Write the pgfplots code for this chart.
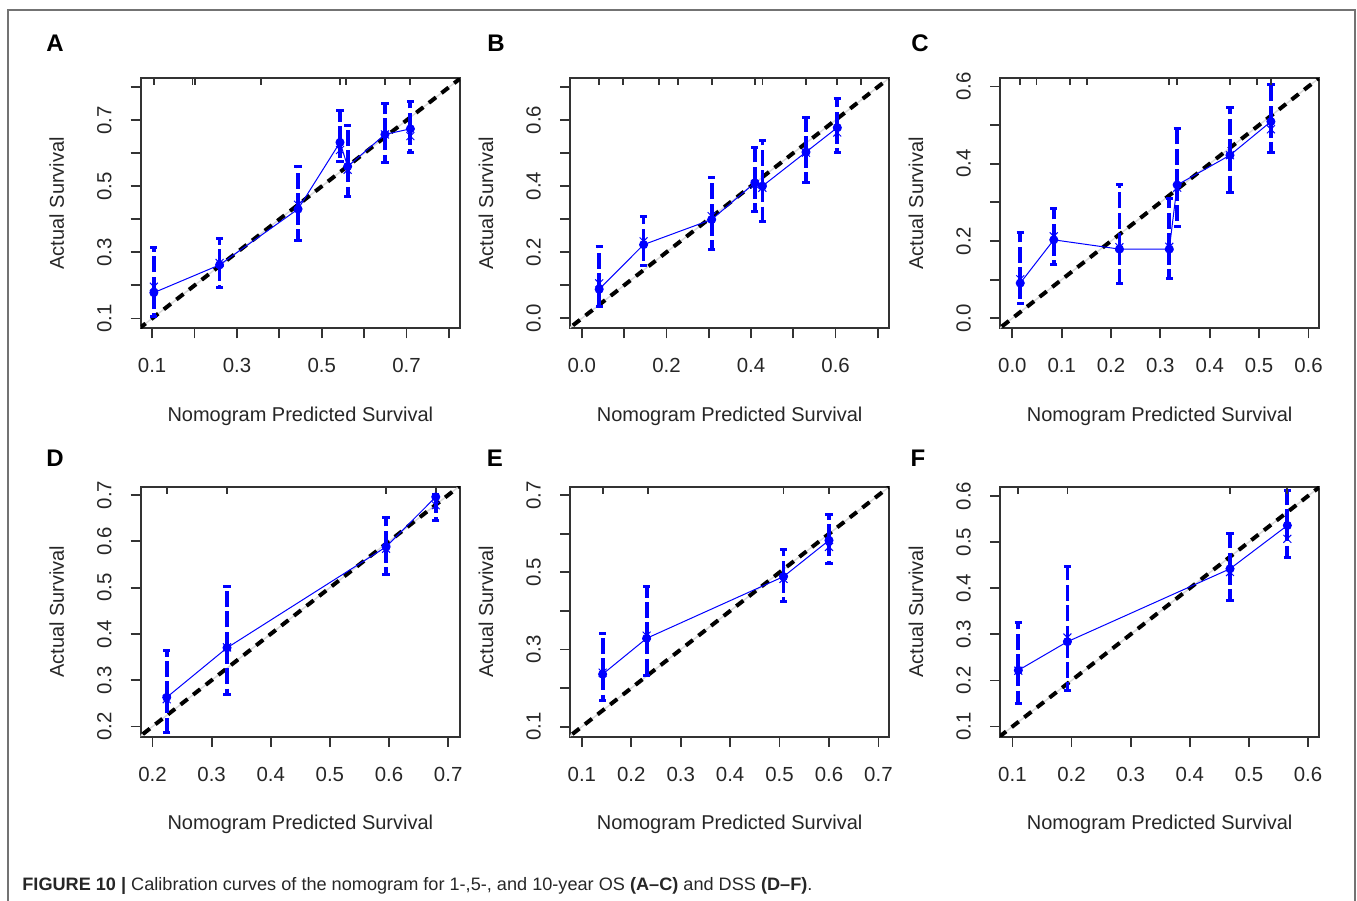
\documentclass[border=0pt]{standalone}
\usepackage{graphicx}
\usepackage{fontspec}
\setmainfont{Liberation Sans}
\usepackage{pgfplots}
\usepackage{pgfplotstable}
\pgfplotsset{compat=1.18}

% x = predicted, y = observed (dot), ylo/yhi = CI, yx = bias-corrected (x mark)
\pgfplotstableread{
x      y     ylo   yhi   yx
0.104  0.178 0.105 0.315 0.196
0.259  0.262 0.193 0.343 0.268
0.444  0.431 0.335 0.561 0.444
0.543  0.633 0.575 0.730 0.610
0.561  0.560 0.469 0.684 0.550
0.649  0.657 0.573 0.751 0.657
0.709  0.674 0.603 0.756 0.652
}\tabA
\pgfplotstableread{
x      y     ylo   yhi   yx
0.041  0.088 0.037 0.218 0.106
0.146  0.223 0.159 0.309 0.233
0.307  0.299 0.207 0.425 0.309
0.409  0.410 0.324 0.518 0.405
0.427  0.400 0.294 0.539 0.395
0.530  0.503 0.410 0.607 0.501
0.604  0.577 0.501 0.666 0.562
}\tabB
\pgfplotstableread{
x      y     ylo   yhi   yx
0.016  0.091 0.037 0.221 0.101
0.084  0.203 0.140 0.284 0.212
0.217  0.179 0.091 0.345 0.184
0.318  0.179 0.104 0.310 0.185
0.334  0.345 0.238 0.491 0.338
0.441  0.422 0.325 0.545 0.422
0.524  0.509 0.429 0.606 0.489
}\tabC
\pgfplotstableread{
x      y     ylo   yhi   yx
0.224  0.263 0.188 0.365 0.259
0.326  0.370 0.269 0.503 0.371
0.595  0.588 0.528 0.652 0.584
0.679  0.696 0.644 0.702 0.678
}\tabD
\pgfplotstableread{
x      y     ylo   yhi   yx
0.142  0.236 0.167 0.342 0.240
0.231  0.329 0.232 0.464 0.336
0.508  0.489 0.425 0.559 0.483
0.600  0.583 0.522 0.651 0.566
}\tabE
\pgfplotstableread{
x      y     ylo   yhi   yx
0.110  0.222 0.150 0.326 0.221
0.193  0.284 0.179 0.448 0.293
0.468  0.442 0.373 0.518 0.435
0.565  0.536 0.467 0.612 0.507
}\tabF

\definecolor{axgray}{gray}{0.2}
\pgfplotsset{
  calib/.style={
    scale only axis, width=159.65pt, height=125pt, anchor=north west,
    axis line style={draw=axgray, line width=0.9pt},
    xtick pos=bottom, ytick pos=left, tick align=outside,
    major tick length=5pt,
    every tick/.style={axgray, line width=0.9pt},
    tick label style={font=\fontsize{10.2}{12}\selectfont, text=black!85},
    xticklabel shift=6.5pt, yticklabel shift=6pt,
    yticklabel style={rotate=90, anchor=south},
    label style={font=\fontsize{10}{12}\selectfont, text=black!85},
    xlabel={Nomogram Predicted Survival}, ylabel={Actual Survival},
    xlabel style={at={(axis description cs:0.5,-0.352)}, anchor=center},
    ylabel style={at={(axis description cs:-0.263,0.5)}, anchor=center},
  },
  ideal/.style={gray!30, line width=0.7pt},
  idealdash/.style={black, line width=2pt, dash pattern=on 4.5pt off 3.5pt},
  cibar/.style={draw=none, mark=none, forget plot,
    error bars/.cd, y dir=both, y explicit,
    error bar style={blue, line width=1.9pt, dash pattern=on 8pt off 2.2pt},
    error mark=-,
    error mark options={blue, rotate=90, line width=1.5pt, mark size=1.8pt}},
  obs/.style={blue, line width=0.5pt, mark=*, mark size=2pt, mark options={solid}},
  corr/.style={blue, only marks, mark=x, mark size=2.8pt, line width=0.5pt},
  rug/.style={draw=none, mark=none, forget plot,
    error bars/.cd, y dir=minus, y fixed=#1,
    error bar style={axgray, line width=0.9pt}, error mark=none},
}

\newcommand{\calibplots}[1]{%
  \addplot[ideal] coordinates {(-0.2,-0.2) (1,1)};
  \addplot[idealdash] coordinates {(-0.2,-0.2) (1,1)};
  \addplot[cibar] table[x=x, y=y,
    y error plus expr=\thisrow{yhi}-\thisrow{y},
    y error minus expr=\thisrow{y}-\thisrow{ylo}] {#1};
  \addplot[obs] table[x=x, y=y] {#1};
  \addplot[corr] table[x=x, y=yx] {#1};
}

\begin{document}
\begin{tikzpicture}
\useasboundingbox (0,0) rectangle (678.5pt,-450.5pt);
\draw[black!55, line width=0.7pt] (4pt,-450.5pt) -- (4pt,-5pt) -- (677.5pt,-5pt) -- (677.5pt,-450.5pt);

\begin{axis}[calib, at={(70.35pt,-39.15pt)},
  xmin=0.073, xmax=0.826, ymin=0.070, ymax=0.827,
  xtick={0.1,0.2,0.3,0.4,0.5,0.6,0.7,0.8}, xticklabels={0.1,,0.3,,0.5,,0.7,},
  ytick={0.1,0.2,0.3,0.4,0.5,0.6,0.7,0.8}, yticklabels={0.1,,0.3,,0.5,,0.7,}]
\calibplots{\tabA}
\addplot[rug=0.021] coordinates {(0.104,0.827)(0.195,0.827)(0.201,0.827)(0.357,0.827)(0.543,0.827)(0.557,0.827)(0.649,0.827)(0.709,0.827)};
\end{axis}

\begin{axis}[calib, at={(285pt,-39.15pt)},
  xmin=-0.028, xmax=0.727, ymin=-0.030, ymax=0.726,
  xtick={0,0.1,0.2,0.3,0.4,0.5,0.6,0.7}, xticklabels={0.0,,0.2,,0.4,,0.6,},
  ytick={0,0.1,0.2,0.3,0.4,0.5,0.6,0.7}, yticklabels={0.0,,0.2,,0.4,,0.6,}]
\calibplots{\tabB}
\addplot[rug=0.021] coordinates {(0.041,0.726)(0.098,0.726)(0.183,0.726)(0.227,0.726)(0.307,0.726)(0.409,0.726)(0.427,0.726)(0.530,0.726)(0.604,0.726)(0.661,0.726)};
\end{axis}

\begin{axis}[calib, at={(500pt,-39.15pt)},
  xmin=-0.025, xmax=0.622, ymin=-0.026, ymax=0.621,
  xtick={0,0.1,0.2,0.3,0.4,0.5,0.6}, xticklabels={0.0,0.1,0.2,0.3,0.4,0.5,0.6},
  ytick={0,0.1,0.2,0.3,0.4,0.5,0.6}, yticklabels={0.0,,0.2,,0.4,,0.6}]
\calibplots{\tabC}
\addplot[rug=0.018] coordinates {(0.016,0.621)(0.049,0.621)(0.117,0.621)(0.151,0.621)(0.318,0.621)(0.334,0.621)(0.441,0.621)(0.495,0.621)(0.524,0.621)};
\end{axis}

\begin{axis}[calib, at={(70.35pt,-243.35pt)},
  xmin=0.180, xmax=0.720, ymin=0.178, ymax=0.718,
  xtick={0.2,0.3,0.4,0.5,0.6,0.7}, xticklabels={0.2,0.3,0.4,0.5,0.6,0.7},
  ytick={0.2,0.3,0.4,0.5,0.6,0.7}, yticklabels={0.2,0.3,0.4,0.5,0.6,0.7}]
\calibplots{\tabD}
\addplot[rug=0.015] coordinates {(0.224,0.718)(0.326,0.718)(0.595,0.718)(0.679,0.718)};
\end{axis}

\begin{axis}[calib, at={(285pt,-243.35pt)},
  xmin=0.076, xmax=0.722, ymin=0.074, ymax=0.722,
  xtick={0.1,0.2,0.3,0.4,0.5,0.6,0.7}, xticklabels={0.1,0.2,0.3,0.4,0.5,0.6,0.7},
  ytick={0.1,0.2,0.3,0.4,0.5,0.6,0.7}, yticklabels={0.1,,0.3,,0.5,,0.7}]
\calibplots{\tabE}
\addplot[rug=0.018] coordinates {(0.142,0.722)(0.233,0.722)(0.508,0.722)(0.600,0.722)};
\end{axis}

\begin{axis}[calib, at={(500pt,-243.35pt)},
  xmin=0.079, xmax=0.619, ymin=0.078, ymax=0.620,
  xtick={0.1,0.2,0.3,0.4,0.5,0.6}, xticklabels={0.1,0.2,0.3,0.4,0.5,0.6},
  ytick={0.1,0.2,0.3,0.4,0.5,0.6}, yticklabels={0.1,0.2,0.3,0.4,0.5,0.6}]
\calibplots{\tabF}
\addplot[rug=0.015] coordinates {(0.110,0.620)(0.193,0.620)(0.468,0.620)(0.565,0.620)};
\end{axis}

\begin{scope}[font=\fontsize{12}{14}\selectfont\bfseries]
\node at (27.5pt,-21.5pt) {A};
\node at (248pt,-21.5pt) {B};
\node at (460pt,-21.5pt) {C};
\node at (27.5pt,-229pt) {D};
\node at (247.5pt,-229pt) {E};
\node at (459pt,-229pt) {F};
\end{scope}

\node[anchor=base west, inner sep=0pt, font=\fontsize{9}{11}\selectfont, text=black!85] at (11pt,-445pt)
  {\resizebox{395pt}{\height}{\textbf{FIGURE 10 |} Calibration curves of the nomogram for 1-,5-, and 10-year OS \textbf{(A–C)} and DSS \textbf{(D–F)}.}};
\end{tikzpicture}
\end{document}
